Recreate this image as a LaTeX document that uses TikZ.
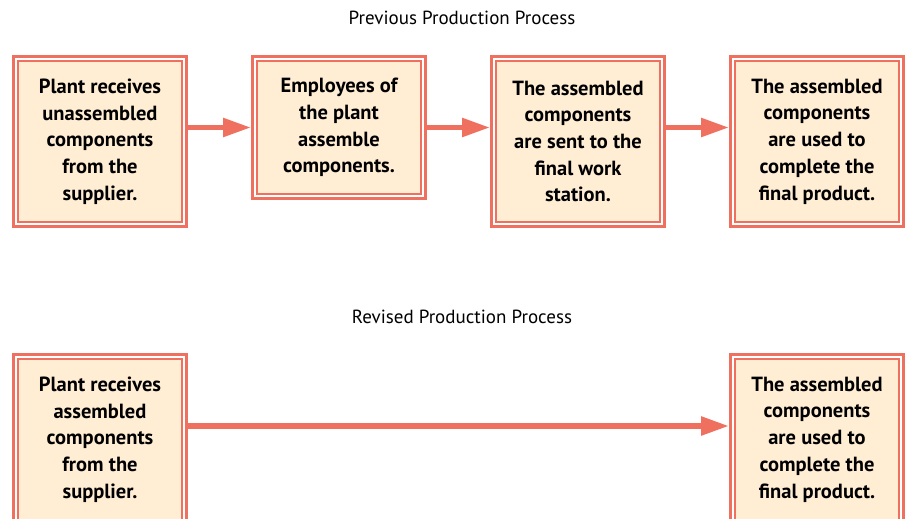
\documentclass[tikz,border=0pt]{standalone}
\usepackage{fontspec}
\setmainfont{PT Sans}
\usetikzlibrary{positioning,arrows.meta,calc}
\definecolor{boxline}{RGB}{240,112,96}
\definecolor{boxfill}{RGB}{255,238,212}

\begin{document}
\begin{tikzpicture}[x=1pt, y=-1pt, node distance=63pt,
    stepbox/.style={draw=boxline, line width=3.5pt, fill=boxfill, minimum width=172.5pt, minimum height=169.5pt, inner sep=0pt, align=center, font=\bfseries\fontsize{20.5}{26.7}\selectfont},
    flow/.style={draw=boxline, line width=5.5pt, -{Triangle[length=28pt,width=18pt]}},
    title/.style={font=\fontsize{19}{22}\selectfont}]
    \useasboundingbox (0,0) rectangle (906,519);
    \clip (0,0) rectangle (906,519);

    % previous process
    \node[title] (prevtitle) at (462,18) {Previous Production Process};
    \node[stepbox] (p1) at (100,141.5) {Plant receives\\unassembled\\components\\from the\\supplier.};
    \node[stepbox, minimum height=141.5pt, right=of p1.north east, anchor=north west] (p2) {Employees of\\the plant\\assemble\\components.};
    \node[stepbox, right=of p2.north east, anchor=north west] (p3) {The assembled\\components\\are sent to the\\final work\\station.};
    \node[stepbox, right=of p3] (p4) {The assembled\\components\\are used to\\complete the\\final product.};

    % revised process
    \node[title] (revtitle) at (462,317) {Revised Production Process};
    \node[stepbox, below=125pt of p1] (r1) {Plant receives\\assembled\\components\\from the\\supplier.};
    \node[stepbox, below=125pt of p4] (r2) {The assembled\\components\\are used to\\complete the\\final product.};

    % inner frames
    \foreach \n in {p1,p2,p3,p4,r1,r2} {
        \draw[white, line width=2pt] ([shift={(4.3,4.3)}]\n.north west) rectangle ([shift={(-4.3,-4.3)}]\n.south east);
        \draw[boxline, line width=1.3pt] ([shift={(6,6)}]\n.north west) rectangle ([shift={(-6,-6)}]\n.south east);
    }

    \draw[flow] (p1.east |- p2.west) -- (p2.west);
    \draw[flow] (p2.east) -- (p3.west |- p2.east);
    \draw[flow] (p3.east |- p2.east) -- (p4.west |- p2.east);
    \draw[flow] ($(r1.north east)+(0,73)$) -- ($(r2.north west)+(0,73)$);
\end{tikzpicture}
\end{document}
